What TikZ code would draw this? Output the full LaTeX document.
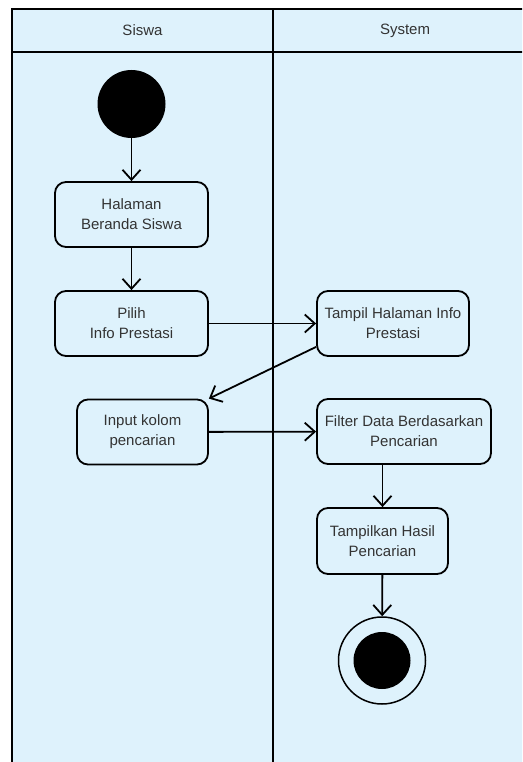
\documentclass[tikz,border=0pt]{standalone}
\usepackage{fontspec}
\setmainfont{Liberation Sans}
\usetikzlibrary{arrows.meta,calc}
\definecolor{lanebg}{HTML}{DEF2FC}
\definecolor{txt}{HTML}{333333}
\begin{document}
\begin{tikzpicture}[x=1pt,y=-1pt,
  act/.style={draw=black, line width=1.8pt, rounded corners=11pt, align=center,
    text=txt, font=\fontsize{15}{20}\selectfont, inner sep=0pt},
  flow/.style={draw=black, line width=1.8pt, -{Straight Barb[length=10pt,width=18pt,line width=1.8pt]}},
  lane/.style={draw=black, line width=2.4pt},
  lanetitle/.style={text=txt, font=\fontsize{15}{18}\selectfont}]
\useasboundingbox (0,0) rectangle (522,762);
\clip (0,0) rectangle (522,762);
\fill[white] (0,0) rectangle (522,762);
% swimlane pool
\fill[lanebg] (12,9) rectangle (540,775);
\draw[lane] (12,775) -- (12,9) -- (540,9);
\draw[lane] (12,52) -- (540,52);
\draw[line width=2pt] (273,9) -- (273,775);
\node[lanetitle] (lsiswa) at (142.5,30.5) {Siswa};
\node[lanetitle] (lsystem) at (405,30.5) {System};
% activities
\node[circle, fill=black, minimum size=68pt, inner sep=0pt] (start) at (131.5,104) {};
\node[act, minimum width=153pt, minimum height=65pt] (beranda) at (131.5,214.5) {Halaman\\Beranda Siswa};
\node[act, minimum width=153pt, minimum height=65pt] (pilih) at (131.5,323.5) {Pilih\\Info Prestasi};
\node[act, minimum width=152pt, minimum height=65pt] (tampil) at (393,323.5) {Tampil Halaman Info\\Prestasi};
\node[act, minimum width=131pt, minimum height=65pt] (input) at (142.5,432) {Input kolom\\pencarian};
\node[act, minimum width=174pt, minimum height=65pt] (filter) at (404,431.5) {Filter Data Berdasarkan\\Pencarian};
\node[act, minimum width=131pt, minimum height=66pt] (hasil) at (382.5,541) {Tampilkan Hasil\\Pencarian};
\node[circle, draw=black, line width=1.5pt, fill=lanebg, minimum size=87pt, inner sep=0pt] (end) at (382,660.5) {};
\node[circle, fill=black, minimum size=57pt, inner sep=0pt] (endcore) at (end.center) {};
% control flow
\draw[flow] (start) -- (beranda);
\draw[flow] (beranda) -- (pilih);
\draw[flow] (pilih) -- (tampil);
\draw[flow] ($(tampil.south west)+(0,-10)$) -- (input.north east);
\draw[flow] (input) -- (filter);
\draw[flow] (hasil.north |- filter.south) -- (hasil.north);
\draw[flow] (hasil) -- (end);
\end{tikzpicture}
\end{document}
